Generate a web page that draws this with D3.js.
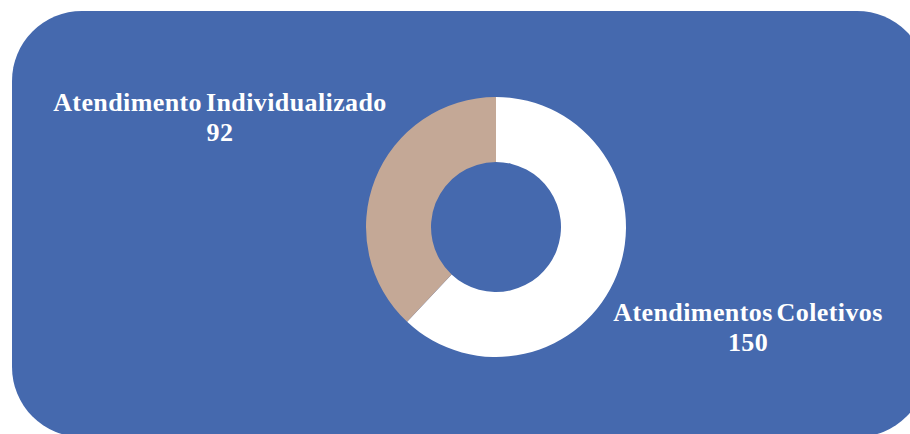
<!DOCTYPE html>
<html>
<head>
<meta charset="utf-8">
<script src="https://cdn.jsdelivr.net/npm/d3@7"></script>
<style>
  html, body { margin: 0; padding: 0; background: #fff; }
  svg { display: block; }
</style>
</head>
<body>
<div id="chart-div"></div>
<script>
const categories = ['Atendimentos Coletivos', 'Atendimento Individualizado']
const values = [150, 92]
const sliceColors = ['#ffffff', '#c4a896']

const width = 910
const height = 434

const svg = d3.select('#chart-div').append('svg')
    .attr('width', width)
    .attr('height', height)

// blue rounded panel behind everything
svg.append('rect')
    .attr('x', 12)
    .attr('y', 11)
    .attr('width', 915)
    .attr('height', 426)
    .attr('rx', 70)
    .attr('ry', 70)
    .attr('fill', '#4569ae')

const data = categories.map((c, i) => ({ name: c, value: values[i] }))

const cx = 496, cy = 227
const outerR = 130, innerR = 65

const color = d3.scaleOrdinal().domain(categories).range(sliceColors)

const pie = d3.pie().value(d => d.value).sort(null)
const arc = d3.arc().innerRadius(innerR).outerRadius(outerR)
const labelArc = d3.arc().innerRadius(285).outerRadius(285)

const g = svg.append('g').attr('transform', `translate(${cx},${cy})`)

g.selectAll('path').data(pie(data))
  .enter().append('path')
    .attr('d', arc)
    .attr('fill', d => color(d.data.name))

// labels: name + value, pushed out along the slice's mid angle
const nudge = [-13, -11] // small horizontal tweaks like the original
const labels = g.selectAll('text.lbl').data(pie(data))
  .enter().append('text')
    .attr('class', 'lbl')
    .attr('text-anchor', 'middle')
    .attr('font-family', '"Liberation Serif", "Times New Roman", serif')
    .attr('font-weight', 'bold')
    .attr('font-size', '26px')
    .attr('letter-spacing', '0.4px')
    .attr('word-spacing', '-3px')
    .attr('fill', '#ffffff')
    .attr('transform', (d, i) => {
        const [x, y] = labelArc.centroid(d)
        return `translate(${x + nudge[i]},${y})`
    })

labels.append('tspan')
    .attr('x', 0)
    .attr('y', -11)
    .text(d => d.data.name)
labels.append('tspan')
    .attr('x', 0)
    .attr('y', 19)
    .text(d => d.data.value)
</script>
</body>
</html>
